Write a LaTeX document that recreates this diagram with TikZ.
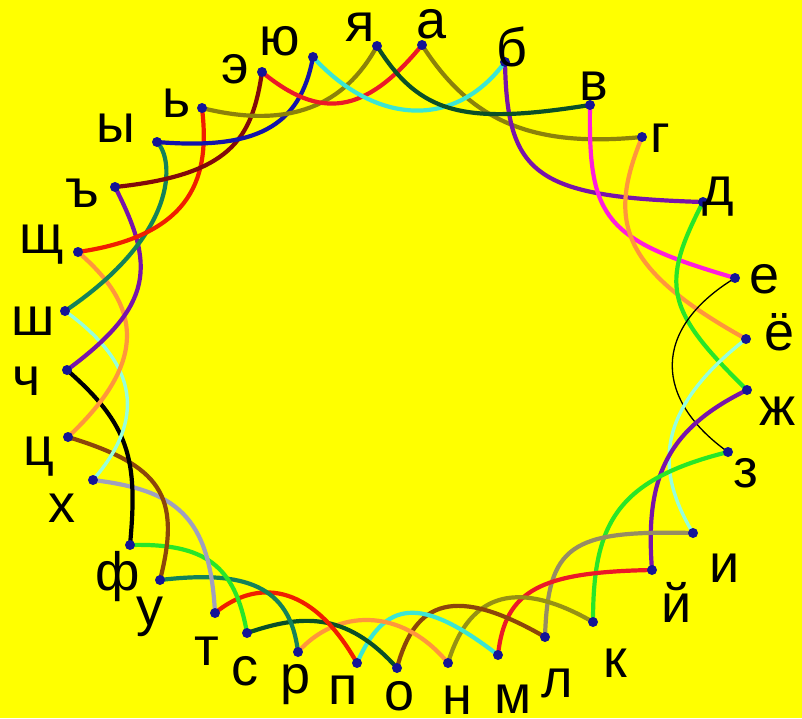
\documentclass[tikz,border=0pt]{standalone}
\usepackage{fontspec}
\setmainfont{Liberation Sans}
\definecolor{bgyellow}{RGB}{255,255,0}
\definecolor{dotblue}{RGB}{20,20,150}
\definecolor{colive}{RGB}{140,130,10}
\definecolor{colive2}{RGB}{150,145,20}
\definecolor{cpurple}{RGB}{120,20,170}
\definecolor{cmagenta}{RGB}{255,30,220}
\definecolor{corange}{RGB}{255,150,60}
\definecolor{cgreen}{RGB}{40,230,40}
\definecolor{caqua}{RGB}{150,255,220}
\definecolor{cgraybrown}{RGB}{150,140,100}
\definecolor{cred}{RGB}{235,25,40}
\definecolor{cred2}{RGB}{240,30,0}
\definecolor{cbrown}{RGB}{140,70,10}
\definecolor{ccyan}{RGB}{60,230,210}
\definecolor{cdarkgreen}{RGB}{10,80,40}
\definecolor{cteal}{RGB}{20,130,90}
\definecolor{clavender}{RGB}{160,160,190}
\definecolor{cmaroon}{RGB}{130,10,10}
\definecolor{cblue}{RGB}{20,20,170}
\begin{document}
\begin{tikzpicture}[x=1pt,y=-1pt,
  dotmark/.style={circle,fill=dotblue,inner sep=0pt,minimum size=10pt},
  lbl/.style={anchor=base,inner sep=0pt,text height=0.5em,text depth=0pt,font=\fontsize{54}{54}\selectfont},
  conn/.style={line width=4.2pt,line cap=round,line join=round},
  thinconn/.style={line width=1.3pt,line cap=round},
  midconn/.style={line width=3.4pt,line cap=round}]
\fill[bgyellow] (0,0) rectangle (802,718);
\useasboundingbox (0,0) rectangle (802,718);
% dot positions
\coordinate (p0) at (422,45);
\coordinate (p1) at (505,62);
\coordinate (p2) at (590,105);
\coordinate (p3) at (642,137);
\coordinate (p4) at (703,202);
\coordinate (p5) at (735,278);
\coordinate (p6) at (746,339);
\coordinate (p7) at (747,390);
\coordinate (p8) at (728,452);
\coordinate (p9) at (693,533);
\coordinate (p10) at (652,570);
\coordinate (p11) at (593,622);
\coordinate (p12) at (545,637);
\coordinate (p13) at (498,655);
\coordinate (p14) at (448,663);
\coordinate (p15) at (397,668);
\coordinate (p16) at (357,663);
\coordinate (p17) at (298,652);
\coordinate (p18) at (247,633);
\coordinate (p19) at (215,613);
\coordinate (p20) at (160,580);
\coordinate (p21) at (130,545);
\coordinate (p22) at (93,480);
\coordinate (p23) at (68,437);
\coordinate (p24) at (67,370);
\coordinate (p25) at (65,311);
\coordinate (p26) at (78,252);
\coordinate (p27) at (115,187);
\coordinate (p28) at (157,142);
\coordinate (p29) at (202,108);
\coordinate (p30) at (262,72);
\coordinate (p31) at (313,57);
\coordinate (p32) at (377,46);
% connectors i -> i+3
\draw[conn,colive] (p0) .. controls (470,120) and (530,148) .. (p3);
\draw[conn,cpurple] (p1) .. controls (507,175) and (535,197) .. (p4);
\draw[conn,cmagenta] (p2) .. controls (588,220) and (605,240) .. (p5);
\draw[conn,corange] (p3) .. controls (608,220) and (618,268) .. (p6);
\draw[conn,cgreen] (p4) .. controls (660,285) and (665,310) .. (p7);
\draw[thinconn,black] (p5) .. controls (650,330) and (655,400) .. (p8);
\draw[midconn,caqua] (p6) .. controls (655,410) and (655,470) .. (p9);
\draw[conn,cpurple] (p7) .. controls (665,430) and (645,480) .. (p10);
\draw[conn,cgreen] (p8) .. controls (615,480) and (593,525) .. (p11);
\draw[conn,cgraybrown] (p9) .. controls (570,530) and (548,545) .. (p12);
\draw[conn,cred] (p10) .. controls (540,572) and (505,590) .. (p13);
\draw[conn,colive2] (p11) .. controls (520,580) and (470,590) .. (p14);
\draw[conn,cbrown] (p12) .. controls (455,585) and (415,600) .. (p15);
\draw[conn,ccyan] (p13) .. controls (420,595) and (385,600) .. (p16);
\draw[conn,corange] (p14) .. controls (400,605) and (335,610) .. (p17);
\draw[conn,cdarkgreen] (p15) .. controls (345,610) and (300,615) .. (p18);
\draw[conn,cred2] (p16) .. controls (310,580) and (255,580) .. (p19);
\draw[conn,cteal] (p17) .. controls (290,585) and (245,570) .. (p20);
\draw[conn,cgreen] (p18) .. controls (235,565) and (205,543) .. (p21);
\draw[conn,clavender] (p19) .. controls (210,515) and (175,490) .. (p22);
\draw[conn,cbrown] (p20) .. controls (182,495) and (160,465) .. (p23);
\draw[conn,black] (p21) .. controls (138,460) and (130,425) .. (p24);
\draw[midconn,caqua] (p22) .. controls (145,420) and (140,365) .. (p25);
\draw[conn,corange] (p23) .. controls (150,360) and (140,305) .. (p26);
\draw[conn,cpurple] (p24) .. controls (155,305) and (155,265) .. (p27);
\draw[conn,cteal] (p25) .. controls (178,235) and (175,160) .. (p28);
\draw[conn,cred2] (p26) .. controls (195,235) and (210,175) .. (p29);
\draw[conn,cmaroon] (p27) .. controls (230,175) and (252,140) .. (p30);
\draw[conn,cblue] (p28) .. controls (255,150) and (300,128) .. (p31);
\draw[conn,colive] (p29) .. controls (290,130) and (345,105) .. (p32);
\draw[conn,cred] (p30) .. controls (320,120) and (365,115) .. (p0);
\draw[conn,ccyan] (p31) .. controls (375,125) and (455,130) .. (p1);
\draw[conn,cdarkgreen] (p32) .. controls (420,115) and (465,125) .. (p2);
% dots
\foreach \i in {0,...,32} { \node[dotmark] (d\i) at (p\i) {}; }
% labels
\node[lbl] (l0) at (432,38) {а};
\node[lbl] (l1) at (512,66) {б};
\node[lbl] (l2) at (594,100) {в};
\node[lbl] (l3) at (660,152) {г};
\node[lbl] (l4) at (718,205) {д};
\node[lbl] (l5) at (765,293) {е};
\node[lbl] (l6) at (780,350) {ё};
\node[lbl] (l7) at (778,425) {ж};
\node[lbl] (l8) at (746,487) {з};
\node[lbl] (l9) at (725,582) {и};
\node[lbl] (l10) at (677,622) {й};
\node[lbl] (l11) at (615,677) {к};
\node[lbl] (l12) at (557,697) {л};
\node[lbl] (l13) at (513,713) {м};
\node[lbl] (l14) at (457,714) {н};
\node[lbl] (l15) at (400,710) {о};
\node[lbl] (l16) at (343,704) {п};
\node[lbl] (l17) at (296,693) {р};
\node[lbl] (l18) at (245,685) {с};
\node[lbl] (l19) at (207,665) {т};
\node[lbl] (l20) at (150,625) {у};
\node[lbl] (l21) at (118,590) {ф};
\node[lbl] (l22) at (62,522) {х};
\node[lbl] (l23) at (39,465) {ц};
\node[lbl] (l24) at (27,395) {ч};
\node[lbl] (l25) at (33,335) {ш};
\node[lbl] (l26) at (42,253) {щ};
\node[lbl] (l27) at (82,207) {ъ};
\node[lbl] (l28) at (116,142) {ы};
\node[lbl] (l29) at (177,117) {ь};
\node[lbl] (l30) at (235,83) {э};
\node[lbl] (l31) at (280,55) {ю};
\node[lbl] (l32) at (360,41) {я};
\end{tikzpicture}
\end{document}
